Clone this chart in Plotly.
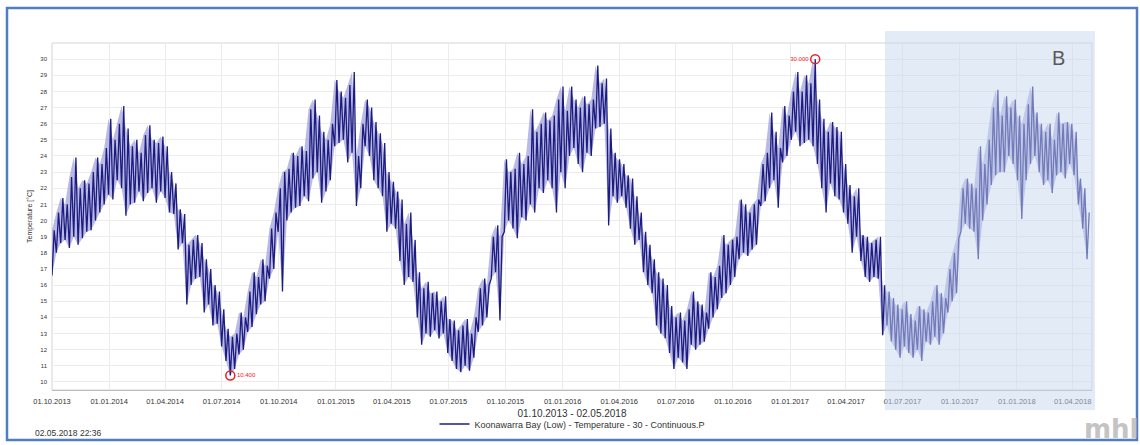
import numpy as np
import pandas as pd
import plotly.graph_objects as go

# ---- data (weekly low / high water temperature) ----
start_date = "2013-10-01"
end_date = "2018-05-02"
weekly_low = [
    16.6, 18.0, 18.6, 18.8, 18.3, 19.0, 18.5, 18.9, 19.3, 19.4,
    20.0, 20.5, 21.0, 21.6, 21.3, 22.5, 22.0, 20.3, 21.0, 21.1,
    21.8, 21.2, 21.7, 22.0, 21.1, 21.8, 21.4, 20.5, 20.4, 18.2,
    18.6, 14.8, 16.0, 16.4, 16.5, 14.3, 14.8, 13.5, 13.6, 12.2,
    11.3, 10.4, 10.8, 11.7, 12.0, 13.1, 13.4, 14.2, 14.8, 15.0,
    16.4, 17.0, 19.3, 15.6, 20.0, 20.5, 20.8, 20.9, 21.5, 21.2,
    22.6, 23.0, 21.1, 21.8, 22.5, 24.6, 24.8, 25.0, 23.6, 24.2,
    20.9, 22.0, 24.6, 24.0, 22.5, 22.0, 21.5, 19.3, 19.8, 19.5,
    17.5, 16.0, 16.5, 16.2, 14.0, 12.3, 13.0, 12.8, 13.2, 12.7,
    13.0, 11.8, 11.3, 10.8, 10.6, 11.0, 10.7, 11.5, 13.1, 13.5,
    14.0, 16.4, 16.8, 13.8, 19.3, 20.0, 19.5, 18.9, 20.2, 20.0,
    21.0, 20.5, 22.0, 21.7, 22.5, 22.0, 20.5, 23.0, 22.0, 24.0,
    24.5, 23.5, 23.0, 24.2, 24.0, 25.7, 25.8, 26.0, 19.7, 21.5,
    21.1, 21.5, 20.8, 19.5, 18.5, 18.8, 16.8, 16.0, 15.5, 13.5,
    13.0, 12.7, 11.8, 10.8, 11.5, 11.2, 10.8, 12.3, 12.0, 12.3,
    12.5, 13.3, 14.0, 14.5, 15.2, 15.5, 16.0, 16.5, 17.6, 18.0,
    17.8, 18.2, 18.5, 20.9, 21.2, 22.0, 22.5, 20.8, 23.6, 24.0,
    25.0, 25.5, 24.6, 24.8, 25.0, 24.6, 23.5, 22.0, 20.5, 22.3,
    21.5, 21.3, 20.5, 19.8, 18.0, 19.0, 17.5, 16.5, 16.2, 16.5,
    16.4, 12.9, 13.5, 12.5, 12.0, 11.5, 12.2, 11.8, 11.5, 12.0,
    11.3, 12.5, 12.3, 12.8, 12.3, 13.0, 14.3, 15.0, 15.5, 19.3,
    19.8, 19.5, 19.3, 17.6, 20.0, 21.0, 22.2, 22.8, 23.0, 23.0,
    24.0, 23.5, 22.5, 20.1, 22.5, 23.5, 24.0, 23.0, 22.2, 22.5,
    21.7, 22.8, 23.0, 22.6, 23.5, 22.8, 21.0, 19.5, 17.6,
]
weekly_high = [
    19.4, 20.5, 21.4, 21.0, 22.7, 23.9, 22.0, 22.5, 22.3, 23.0,
    23.9, 23.5, 24.5, 26.3, 25.0, 26.0, 27.1, 25.7, 24.6, 25.0,
    24.2, 25.3, 25.9, 25.0, 24.8, 25.2, 24.6, 23.0, 22.3, 20.7,
    20.4, 18.5, 18.8, 19.1, 18.6, 17.6, 17.0, 16.0, 15.6, 14.5,
    13.3, 12.8, 13.0, 14.3, 14.0, 15.6, 16.8, 16.5, 17.6, 17.2,
    19.5, 20.5, 22.0, 23.0, 23.2, 24.2, 24.0, 24.6, 24.3, 26.9,
    27.5, 26.5, 25.5, 25.0, 26.0, 28.7, 28.0, 27.6, 28.4, 29.2,
    24.0, 26.0, 27.5, 27.0, 26.1, 25.4, 24.8, 23.0, 22.4, 21.8,
    21.3, 19.8, 20.5, 18.8, 16.8, 15.8, 16.2, 15.5, 15.6, 15.0,
    15.3, 13.9, 13.8, 13.2, 13.5, 13.9, 13.0, 14.0, 15.8, 16.4,
    16.0, 19.0, 19.7, 19.0, 23.8, 23.0, 23.2, 24.2, 23.5, 24.0,
    26.9, 25.5, 26.0, 26.7, 26.2, 26.5, 27.5, 28.3, 26.8, 28.3,
    27.5, 27.0, 27.7, 27.2, 27.5, 29.6, 28.5, 28.8, 25.7, 24.2,
    23.8, 23.5, 22.8, 22.6, 21.5, 20.5, 19.3, 18.5, 17.6, 16.8,
    16.4, 16.0, 14.7, 14.0, 14.3, 13.8, 14.5, 15.6, 15.0, 14.8,
    14.3, 16.8, 16.5, 17.2, 19.1, 18.5, 18.8, 19.0, 21.3, 21.0,
    20.5, 21.0, 21.3, 23.5, 24.2, 26.7, 25.5, 24.5, 27.1, 26.5,
    28.0, 29.2, 28.0, 29.0, 28.5, 30.0, 27.5, 26.3, 25.5, 26.1,
    25.8, 25.5, 23.5, 22.2, 21.5, 22.0, 19.1, 19.0, 18.6, 18.8,
    19.0, 16.0, 15.6, 15.2, 14.8, 14.5, 15.0, 14.2, 13.8, 14.7,
    14.5, 14.3, 15.0, 16.0, 15.5, 15.2, 17.0, 18.0, 18.9, 22.0,
    22.6, 22.3, 22.0, 24.6, 23.5, 25.0, 27.0, 28.1, 26.5, 27.7,
    27.0, 27.5, 26.5, 26.0, 27.2, 28.3, 26.7, 26.0, 25.5, 26.0,
    25.0, 26.7, 26.0, 26.1, 26.0, 25.5, 22.6, 22.0, 20.5,
]
x_tick_dates = [
    "2013-10-01", "2014-01-01", "2014-04-01", "2014-07-01", "2014-10-01",
    "2015-01-01", "2015-04-01", "2015-07-01", "2015-10-01", "2016-01-01",
    "2016-04-01", "2016-07-01", "2016-10-01", "2017-01-01", "2017-04-01",
    "2017-07-01", "2017-10-01", "2018-01-01", "2018-04-01",
]
y_ticks = list(range(10, 31))
series_name = "Koonawarra Bay (Low) - Temperature - 30 - Continuous.P"
x_title = "01.10.2013 - 02.05.2018"
timestamp = "02.05.2018 22:36"

# ---- build zig-zag series (low at week start, high mid-week) ----
week_starts = pd.date_range(start_date, periods=len(weekly_low), freq="7D")
xs, ys = [], []
for d, lo, hi in zip(week_starts, weekly_low, weekly_high):
    xs.append(d)
    ys.append(lo)
    xs.append(d + pd.Timedelta(hours=84))
    ys.append(hi)

ys_arr = np.array(ys)
i_min = int(np.argmin(ys_arr))
i_max = int(np.argmax(ys_arr))

# ---- layout geometry (pixels) ----
W, H = 1140, 445
L, R, T, B = 52, 1092, 43, 390
pw, ph = R - L, B - T


def px(xp):
    return (xp - L) / pw


def py(yp):
    return (B - yp) / ph


font_family = "Liberation Sans, Arial, sans-serif"
navy = "#1c1c80"

fig = go.Figure()
# light envelope band between weekly low and high
fig.add_trace(go.Scatter(
    x=week_starts, y=weekly_low, mode="lines", line=dict(width=0),
    showlegend=False, hoverinfo="skip",
))
fig.add_trace(go.Scatter(
    x=week_starts, y=weekly_high, mode="lines", line=dict(width=0),
    fill="tonexty", fillcolor="rgba(130,130,205,0.55)",
    showlegend=False, hoverinfo="skip",
))
fig.add_trace(go.Scatter(
    x=xs, y=ys, mode="lines", name=series_name,
    line=dict(color=navy, width=1.3),
))
# min / max markers
fig.add_trace(go.Scatter(
    x=[xs[i_min]], y=[ys[i_min]], mode="markers+text",
    marker=dict(symbol="circle-open", size=9, color="#e8202a", line=dict(width=1.5)),
    text=[f"{ys[i_min]:.3f}"], textposition="middle right",
    textfont=dict(size=6, color="#e8202a", family=font_family),
    showlegend=False, hoverinfo="skip",
))
fig.add_trace(go.Scatter(
    x=[xs[i_max]], y=[ys[i_max]], mode="markers+text",
    marker=dict(symbol="circle-open", size=9, color="#e8202a", line=dict(width=1.5)),
    text=[f"{ys[i_max]:.3f}"], textposition="middle left",
    textfont=dict(size=6, color="#e8202a", family=font_family),
    showlegend=False, hoverinfo="skip",
))

shapes = [
    # outer blue frame
    dict(type="rect", xref="paper", yref="paper",
         x0=px(7), x1=px(1137), y0=py(440), y1=py(8),
         line=dict(color="#4f7fc0", width=2.5), fillcolor="rgba(0,0,0,0)",
         layer="below"),
    # plot frame
    dict(type="rect", xref="paper", yref="paper", x0=0, x1=1, y0=0, y1=1,
         line=dict(color="#d4d4d4", width=1), fillcolor="rgba(0,0,0,0)",
         layer="below"),
    # "B" highlight overlay
    dict(type="rect", xref="paper", yref="paper",
         x0=px(885), x1=px(1095), y0=py(410), y1=py(31),
         line=dict(width=0), fillcolor="rgba(200,216,240,0.5)", layer="above"),
]

annotations = [
    dict(text="B", xref="paper", yref="paper", x=px(1058), y=py(58),
         xanchor="center", yanchor="middle",
         showarrow=False, font=dict(size=20, color="#5a5a5a", family=font_family)),
    dict(text=timestamp, xref="paper", yref="paper", x=px(33), y=py(433),
         xanchor="left", yanchor="middle", showarrow=False,
         font=dict(size=8.5, color="#333333", family=font_family)),
    dict(text="<b>mhl</b>", xref="paper", yref="paper", x=px(1141), y=py(446),
         xanchor="right", yanchor="bottom", showarrow=False,
         font=dict(size=26, color="#c4c4c4", family="DejaVu Sans, sans-serif")),
]

fig.update_layout(
    width=W, height=H,
    margin=dict(l=L, r=W - R, t=T, b=H - B, autoexpand=False),
    paper_bgcolor="white", plot_bgcolor="white",
    font=dict(family=font_family, color="#333333", size=7),
    showlegend=True,
    legend=dict(orientation="h", x=0.5, xanchor="center",
                y=py(424), yanchor="middle",
                font=dict(size=9, color="#333333"),
                bgcolor="rgba(0,0,0,0)", itemwidth=30),
    shapes=shapes, annotations=annotations,
    xaxis=dict(
        type="date", range=[start_date, end_date],
        tickvals=x_tick_dates, tickformat="%d.%m.%Y",
        tickfont=dict(size=7.5, color="#333333"),
        showgrid=True, gridcolor="#ececec", gridwidth=1,
        showline=True, linecolor="#bdbdbd", ticks="",
        ticklabelstandoff=4, automargin=False,
        zeroline=False,
        title=dict(text=x_title, font=dict(size=10, color="#333333"), standoff=4),
    ),
    yaxis=dict(
        range=[9.5, 31], tickvals=y_ticks,
        tickfont=dict(size=6, color="#333333"),
        showgrid=True, gridcolor="#ececec", gridwidth=1,
        showline=False, ticks="", zeroline=False, automargin=False,
        ticklabelstandoff=4,
        title=dict(text="Temperature [°C]", font=dict(size=7, color="#333333"), standoff=6),
    ),
)

fig.write_html("out.html")
